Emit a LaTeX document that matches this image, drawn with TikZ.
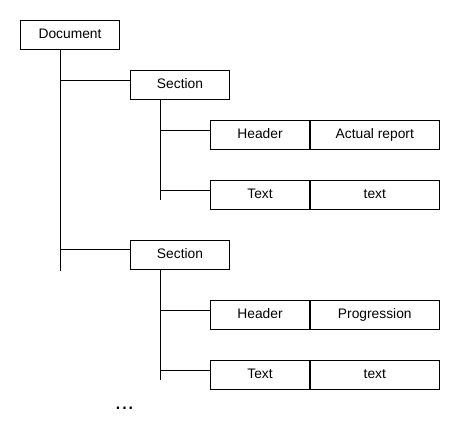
\documentclass[tikz,border=0pt]{standalone}
\usepackage{fontspec}
\setmainfont{Liberation Sans}
\usetikzlibrary{calc}
\tikzset{
  box/.style = {draw, rectangle, minimum width = 99pt, minimum height = 29pt, inner sep = 0pt, text height = 10pt, text depth = 3pt, font = \fontsize{13.8}{16}\selectfont},
  widebox/.style = {box, minimum width = 129pt}
}

\begin{document}
\begin{tikzpicture}[x = 1pt, y = -1pt, line width = 0.8pt]
\useasboundingbox (0,0) rectangle (460,420);
\node[box] (doc) at (70,34.75) {Document};
\coordinate (trunk top) at ([xshift = -9.5pt]doc.south);
\foreach \s / \ys / \yh / \yt / \topic in {1/85/134.5/194.5/Actual report, 2/254.5/314.5/374.5/Progression}
{
	\node[box] (sec\s) at (180,\ys) {Section};
	\coordinate (sec\s in) at ([yshift = 5pt]sec\s.west);
	\draw (sec\s in) -- (sec\s in -| trunk top);
	% header and text rows
	\node[box] (hdr\s) at (260,\yh) {Header};
	\node[widebox, anchor = west] (hval\s) at (hdr\s.east) {\topic};
	\node[box] (txt\s) at (260,\yt) {Text};
	\node[widebox, anchor = west] (tval\s) at (txt\s.east) {text};
	\coordinate (stem\s) at ([xshift = 30.5pt]sec\s.south west);
	\coordinate (hdr\s in) at ([yshift = 4.5pt]hdr\s.west);
	\coordinate (txt\s in) at ([yshift = 4.5pt]txt\s.west);
	\draw (stem\s) -- ($(stem\s |- txt\s in)+(0,10)$);
	\draw (hdr\s in) -- (hdr\s in -| stem\s);
	\draw (txt\s in) -- (txt\s in -| stem\s);
}
\coordinate (trunk end) at ($(sec2.south west -| trunk top)+(0,2)$);
\draw (trunk top) -- (trunk end);
\node[anchor = base, inner sep = 0pt, font = \fontsize{23}{26}\selectfont] (more) at (124.5,409) {...};
\end{tikzpicture}
\end{document}
